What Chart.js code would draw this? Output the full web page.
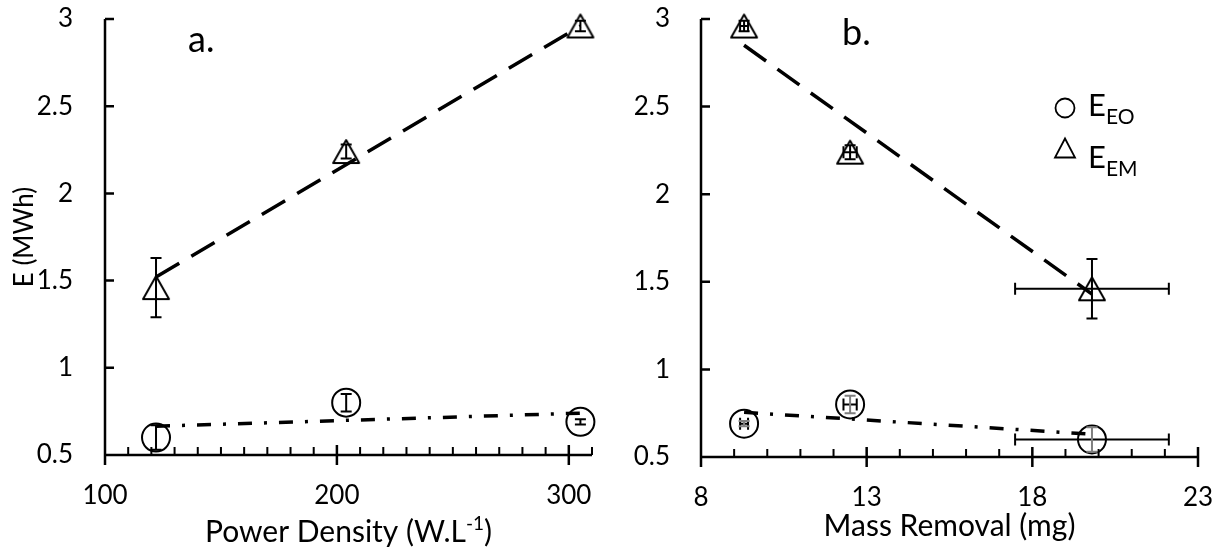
<!DOCTYPE html>
<html>
<head>
<meta charset="utf-8">
<script src="https://cdn.jsdelivr.net/npm/chart.js@4.4.1/dist/chart.umd.min.js"></script>
<style>
  html, body { margin: 0; padding: 0; background: #fff; }
  #wrap { position: relative; width: 1224px; height: 554px; }
  canvas { position: absolute; top: 0; }
  #chartPower { left: 0; }
  #chartMass { left: 612px; }
</style>
</head>
<body>
<div id="wrap">
  <canvas id="chartPower" width="612" height="554"></canvas>
  <canvas id="chartMass" width="612" height="554"></canvas>
</div>
<script>
// Three runs; every array below follows the same run order
const powerDensity   = [122, 204, 305];     // W.L-1
const massRemoval    = [19.8, 12.5, 9.3];   // mg
const massRemovalErr = [2.32, 0.2, 0.12];
const energyEO       = [0.60, 0.80, 0.69];  // MWh
const energyEOErr    = [0.07, 0.05, 0.015];
const energyEM       = [1.46, 2.24, 2.96];  // MWh
const energyEMErr    = [0.17, 0.04, 0.03];

// Linear trend lines (end points)
const trendPowerX  = [122, 305];
const trendPowerEM = [1.52, 2.96];
const trendPowerEO = [0.665, 0.74];
const trendMassX   = [9.3, 19.8];
const trendMassEM  = [2.85, 1.43];
const trendMassEO  = [0.755, 0.63];

// Axis ticks
const energyTicks = [0.5, 1, 1.5, 2, 2.5, 3];
const powerTicks  = [100, 200, 300];
const massTicks   = [8, 13, 18, 23];

const FONT = 'Lato';
const INK = '#000';

function pts(xs, ys) { return xs.map((x, i) => ({ x: x, y: ys[i] })); }

// open triangle marker, centred on its bounding box
function triangleMarker(w, h, lw) {
  const pad = 4;
  const c = document.createElement('canvas');
  c.width = w + pad * 2; c.height = h + pad * 2;
  const g = c.getContext('2d');
  g.strokeStyle = INK; g.lineWidth = lw; g.lineJoin = 'round';
  g.beginPath();
  g.moveTo(c.width / 2, pad);
  g.lineTo(pad + w, pad + h);
  g.lineTo(pad, pad + h);
  g.closePath();
  g.stroke();
  return c;
}
const triMarker = triangleMarker(26, 23, 2);

// axis lines with inward / crossing tick marks
const axisDecor = {
  id: 'axisDecor',
  beforeDatasetsDraw(chart, args, o) {
    const { ctx, chartArea: a, scales: { x, y } } = chart;
    ctx.save();
    ctx.strokeStyle = INK;
    ctx.lineCap = 'butt';
    ctx.lineWidth = 2.5;
    ctx.beginPath();
    ctx.moveTo(a.left, a.top); ctx.lineTo(a.left, a.bottom);
    ctx.moveTo(a.left - 1.25, a.bottom); ctx.lineTo(a.right, a.bottom);
    energyTicks.forEach(v => {
      const py = y.getPixelForValue(v);
      ctx.moveTo(a.left, py); ctx.lineTo(a.left + 9, py);
    });
    o.major.forEach(v => {
      const px = x.getPixelForValue(v);
      ctx.moveTo(px, a.bottom - 10); ctx.lineTo(px, a.bottom + 10);
    });
    ctx.stroke();
    ctx.lineWidth = 2;
    ctx.beginPath();
    for (let v = x.min + o.minor; v <= x.max + 1e-9; v += o.minor) {
      if (o.major.some(m => Math.abs(m - v) < 1e-6)) continue;
      const px = x.getPixelForValue(v);
      ctx.moveTo(px, a.bottom); ctx.lineTo(px, a.bottom - 8);
    }
    ctx.stroke();
    ctx.restore();
  }
};

// error bars for the scatter series
const errorBars = {
  id: 'errorBars',
  afterDatasetsDraw(chart, args, o) {
    const { ctx, scales: { x, y } } = chart;
    ctx.save();
    ctx.lineWidth = 2;
    ctx.lineCap = 'butt';
    o.sets.forEach(s => {
      chart.data.datasets[s.dataset].data.forEach((p, i) => {
        const px = x.getPixelForValue(p.x), py = y.getPixelForValue(p.y);
        ctx.beginPath();
        if (s.xErr) {
          const l = x.getPixelForValue(p.x - s.xErr[i]), r = x.getPixelForValue(p.x + s.xErr[i]);
          ctx.strokeStyle = INK;
          ctx.moveTo(l, py); ctx.lineTo(r, py);
          ctx.moveTo(l, py - 6); ctx.lineTo(l, py + 6);
          ctx.moveTo(r, py - 6); ctx.lineTo(r, py + 6);
          ctx.stroke();
          ctx.beginPath();
        }
        if (s.yErr) {
          const t = y.getPixelForValue(p.y + s.yErr[i]), b = y.getPixelForValue(p.y - s.yErr[i]);
          ctx.strokeStyle = s.yColor || INK;
          ctx.moveTo(px, t); ctx.lineTo(px, b);
          ctx.moveTo(px - 5.5, t); ctx.lineTo(px + 5.5, t);
          ctx.moveTo(px - 5.5, b); ctx.lineTo(px + 5.5, b);
          ctx.stroke();
        }
      });
    });
    ctx.restore();
  }
};

// text runs with sub/superscripts
function richText(ctx, parts, cx, baseline, align) {
  let total = 0;
  parts.forEach(p => { ctx.font = p.size + 'px ' + FONT; p.w = ctx.measureText(p.t).width; total += p.w; });
  let xx = align === 'left' ? cx : cx - total / 2;
  parts.forEach(p => {
    ctx.font = p.size + 'px ' + FONT;
    ctx.fillText(p.t, xx, baseline + (p.dy || 0));
    xx += p.w;
  });
}

// panel letter, x-axis title and legend
const annotations = {
  id: 'annotations',
  afterDraw(chart, args, o) {
    const { ctx, chartArea: a } = chart;
    ctx.save();
    ctx.fillStyle = INK;
    ctx.textBaseline = 'alphabetic';
    ctx.textAlign = 'left';
    ctx.font = '36px ' + FONT;
    ctx.fillText(o.panel.text, o.panel.x, o.panel.y);
    richText(ctx, o.xTitle.parts, (a.left + a.right) / 2, o.xTitle.y, 'center');
    if (o.legend) {
      const L = o.legend;
      ctx.strokeStyle = INK;
      ctx.lineWidth = 1.8;
      ctx.beginPath();
      ctx.arc(L.x, L.rows[0].cy, 9.5, 0, Math.PI * 2);
      ctx.stroke();
      const ty = L.rows[1].cy;
      ctx.beginPath();
      ctx.moveTo(L.x, ty - 9.5); ctx.lineTo(L.x + 10, ty + 9.5); ctx.lineTo(L.x - 10, ty + 9.5); ctx.closePath();
      ctx.stroke();
      L.rows.forEach(r => richText(ctx, r.parts, L.textX, r.base, 'left'));
    }
    ctx.restore();
  }
};

Chart.defaults.font.family = FONT;
Chart.defaults.color = INK;

function baseScales(cfg) {
  return {
    x: {
      type: 'linear', min: cfg.xMin, max: cfg.xMax,
      afterBuildTicks: s => { s.ticks = cfg.xTicks.map(v => ({ value: v })); },
      afterFit: s => { s.height = cfg.xHeight; s.paddingLeft = 0; s.paddingRight = 0; },
      grid: { display: false, drawTicks: false },
      border: { display: false },
      ticks: { font: { size: 26 }, color: INK, padding: 25, maxRotation: 0, autoSkip: false, callback: v => String(v) }
    },
    y: {
      type: 'linear', min: 0.5, max: 3,
      afterBuildTicks: s => { s.ticks = energyTicks.map(v => ({ value: v })); },
      afterFit: s => { s.width = cfg.yWidth; s.paddingTop = 0; s.paddingBottom = 0; },
      grid: { display: false, drawTicks: false },
      border: { display: false },
      ticks: { font: { size: 26 }, color: INK, padding: cfg.yPad, autoSkip: false, callback: v => String(v) },
      title: cfg.yTitle ? { display: true, text: 'E (MWh)', font: { size: 26 }, color: INK, padding: { top: 9, bottom: 0 } } : { display: false }
    }
  };
}

function datasets(xs, xTrend, emTrend, eoTrend) {
  return [
    { data: pts(xTrend, emTrend), showLine: true, borderColor: INK, borderWidth: 3.5, borderDash: [27, 14], pointRadius: 0, clip: false },
    { data: pts(xTrend, eoTrend), showLine: true, borderColor: INK, borderWidth: 3.5, borderDash: [14, 12, 3, 12], pointRadius: 0, clip: false },
    { data: pts(xs, energyEO), pointStyle: 'circle', pointRadius: 14, borderColor: INK, borderWidth: 2, backgroundColor: 'rgba(0,0,0,0)', clip: false },
    { data: pts(xs, energyEM), pointStyle: triMarker, pointRadius: 15, borderColor: INK, clip: false }
  ];
}

const common = {
  responsive: false, animation: false, events: [], devicePixelRatio: 1
};

// a. energy vs power density
new Chart(document.getElementById('chartPower'), {
  type: 'scatter',
  data: { datasets: datasets(powerDensity, trendPowerX, trendPowerEM, trendPowerEO) },
  options: Object.assign({}, common, {
    layout: { autoPadding: false, padding: { left: 0, top: 19, right: 20, bottom: 0 } },
    scales: baseScales({ xMin: 100, xMax: 310, xTicks: powerTicks, xHeight: 99, yWidth: 105, yPad: 32, yTitle: true }),
    plugins: {
      legend: { display: false }, tooltip: { enabled: false },
      axisDecor: { major: powerTicks, minor: 10 },
      errorBars: { sets: [ { dataset: 2, yErr: energyEOErr }, { dataset: 3, yErr: energyEMErr } ] },
      annotations: {
        panel: { text: 'a.', x: 188, y: 52 },
        xTitle: { y: 542, parts: [ { t: 'Power Density (W.L', size: 30 }, { t: '-1', size: 19, dy: -12 }, { t: ')', size: 30 } ] }
      }
    }
  }),
  plugins: [axisDecor, errorBars, annotations]
});

// b. energy vs mass removal
new Chart(document.getElementById('chartMass'), {
  type: 'scatter',
  data: { datasets: datasets(massRemoval, trendMassX, trendMassEM, trendMassEO) },
  options: Object.assign({}, common, {
    layout: { autoPadding: false, padding: { left: 0, top: 19, right: 26, bottom: 0 } },
    scales: baseScales({ xMin: 8, xMax: 23, xTicks: massTicks, xHeight: 97, yWidth: 89, yPad: 31, yTitle: false }),
    plugins: {
      legend: { display: false }, tooltip: { enabled: false },
      axisDecor: { major: massTicks, minor: 1 },
      errorBars: { sets: [ { dataset: 2, xErr: massRemovalErr, yErr: energyEOErr, yColor: '#7f7f7f' }, { dataset: 3, xErr: massRemovalErr, yErr: energyEMErr } ] },
      annotations: {
        panel: { text: 'b.', x: 230, y: 45 },
        xTitle: { y: 536, parts: [ { t: 'Mass Removal (mg)', size: 30 } ] },
        legend: {
          x: 453, textX: 476,
          rows: [
            { cy: 108, base: 116, parts: [ { t: 'E', size: 31 }, { t: 'EO', size: 21, dy: 8 } ] },
            { cy: 148, base: 168, parts: [ { t: 'E', size: 31 }, { t: 'EM', size: 21, dy: 8 } ] }
          ]
        }
      }
    }
  }),
  plugins: [axisDecor, errorBars, annotations]
});
</script>
</body>
</html>
